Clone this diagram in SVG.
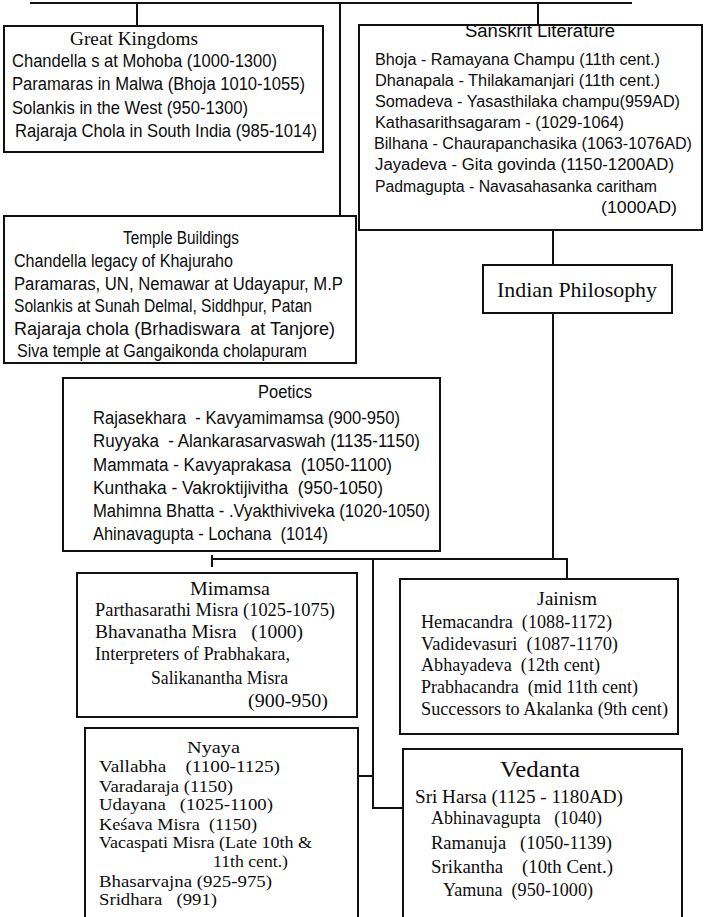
<svg xmlns="http://www.w3.org/2000/svg" width="704" height="917" viewBox="0 0 704 917">
<style>
  .bg { fill: #ffffff; }
  .box { fill: none; stroke: #111111; stroke-width: 2; }
  .wire { fill: none; stroke: #111111; stroke-width: 2; }
  text { fill: #0d0d0d; }
  .sans { font-family: "Liberation Sans", Arial, sans-serif; font-size: 18px; }
  .serif { font-family: "Liberation Serif", "Times New Roman", serif; font-size: 18px; }
  .sk { font-size: 16px; }
  .ny { font-size: 17px; }
  .big { font-size: 21px; }
  .big2 { font-size: 23px; }
</style>
<rect class="bg" x="0" y="0" width="704" height="917"/>

<g id="connectors">
  <path class="wire" d="M30 3 H632"/>
  <path class="wire" d="M137 3 V26"/>
  <path class="wire" d="M340 3 V216"/>
  <path class="wire" d="M538 3 V25"/>
  <path class="wire" d="M553 230 V265"/>
  <path class="wire" d="M553 313 V560"/>
  <path class="wire" d="M212 559 H567 V579"/>
  <path class="wire" d="M212 555 V567"/>
  <path class="wire" d="M373 559 V808 H403"/>
  <path class="wire" d="M358 776 H373"/>
</g>

<g id="great-kingdoms">
  <rect class="box" x="4" y="26" width="319" height="126"/>
  <text class="serif" x="70" y="45" textLength="128" lengthAdjust="spacingAndGlyphs">Great Kingdoms</text>
  <text class="sans" x="12" y="67" textLength="265" lengthAdjust="spacingAndGlyphs">Chandella s at Mohoba (1000-1300)</text>
  <text class="sans" x="12" y="90" textLength="293" lengthAdjust="spacingAndGlyphs">Paramaras in Malwa (Bhoja 1010-1055)</text>
  <text class="sans" x="12" y="114" textLength="236" lengthAdjust="spacingAndGlyphs">Solankis in the West (950-1300)</text>
  <text class="sans" x="15" y="137" textLength="302" lengthAdjust="spacingAndGlyphs">Rajaraja Chola in South India (985-1014)</text>
</g>

<g id="sanskrit-literature">
  <text class="sans" x="465" y="37" textLength="150" lengthAdjust="spacingAndGlyphs">Sanskrit Literature</text>
  <rect class="box" x="359" y="25" width="343" height="205"/>
  <text class="sans sk" x="375" y="65" textLength="285" lengthAdjust="spacingAndGlyphs">Bhoja - Ramayana Champu (11th cent.)</text>
  <text class="sans sk" x="375" y="86" textLength="285" lengthAdjust="spacingAndGlyphs">Dhanapala - Thilakamanjari (11th cent.)</text>
  <text class="sans sk" x="375" y="107" textLength="305" lengthAdjust="spacingAndGlyphs">Somadeva - Yasasthilaka champu(959AD)</text>
  <text class="sans sk" x="375" y="128" textLength="249" lengthAdjust="spacingAndGlyphs">Kathasarithsagaram - (1029-1064)</text>
  <text class="sans sk" x="374" y="149" textLength="318" lengthAdjust="spacingAndGlyphs">Bilhana - Chaurapanchasika (1063-1076AD)</text>
  <text class="sans sk" x="375" y="170" textLength="299" lengthAdjust="spacingAndGlyphs">Jayadeva - Gita govinda (1150-1200AD)</text>
  <text class="sans sk" x="375" y="192" textLength="282" lengthAdjust="spacingAndGlyphs">Padmagupta - Navasahasanka caritham</text>
  <text class="sans sk" x="601" y="213" textLength="76" lengthAdjust="spacingAndGlyphs">(1000AD)</text>
</g>

<g id="temple-buildings">
  <rect class="box" x="4" y="216" width="352" height="147"/>
  <text class="sans" x="123" y="244" textLength="116" lengthAdjust="spacingAndGlyphs">Temple Buildings</text>
  <text class="sans" x="14" y="267" textLength="219" lengthAdjust="spacingAndGlyphs">Chandella legacy of Khajuraho</text>
  <text class="sans" x="14" y="290" textLength="329" lengthAdjust="spacingAndGlyphs">Paramaras, UN, Nemawar at Udayapur, M.P</text>
  <text class="sans" x="14" y="312" textLength="298" lengthAdjust="spacingAndGlyphs">Solankis at Sunah Delmal, Siddhpur, Patan</text>
  <text class="sans" x="14" y="335" textLength="321" lengthAdjust="spacingAndGlyphs" xml:space="preserve">Rajaraja chola (Brhadiswara  at Tanjore)</text>
  <text class="sans" x="17" y="357" textLength="290" lengthAdjust="spacingAndGlyphs">Siva temple at Gangaikonda cholapuram</text>
</g>

<g id="indian-philosophy">
  <rect class="box" x="483" y="265" width="189" height="48"/>
  <text class="serif big" x="497" y="297" textLength="160" lengthAdjust="spacingAndGlyphs">Indian Philosophy</text>
</g>

<g id="poetics">
  <rect class="box" x="63" y="378" width="377" height="173"/>
  <text class="sans" x="258" y="398" textLength="54" lengthAdjust="spacingAndGlyphs">Poetics</text>
  <text class="sans" x="93" y="424" textLength="307" lengthAdjust="spacingAndGlyphs" xml:space="preserve">Rajasekhara  - Kavyamimamsa (900-950)</text>
  <text class="sans" x="93" y="447" textLength="327" lengthAdjust="spacingAndGlyphs" xml:space="preserve">Ruyyaka  - Alankarasarvaswah (1135-1150)</text>
  <text class="sans" x="93" y="471" textLength="299" lengthAdjust="spacingAndGlyphs" xml:space="preserve">Mammata - Kavyaprakasa  (1050-1100)</text>
  <text class="sans" x="93" y="494" textLength="290" lengthAdjust="spacingAndGlyphs" xml:space="preserve">Kunthaka - Vakroktijivitha  (950-1050)</text>
  <text class="sans" x="93" y="517" textLength="337" lengthAdjust="spacingAndGlyphs">Mahimna Bhatta - .Vyakthiviveka (1020-1050)</text>
  <text class="sans" x="93" y="540" textLength="235" lengthAdjust="spacingAndGlyphs" xml:space="preserve">Ahinavagupta - Lochana  (1014)</text>
</g>

<g id="mimamsa">
  <rect class="box" x="77" y="573" width="280" height="144"/>
  <text class="serif" x="190" y="595" textLength="80" lengthAdjust="spacingAndGlyphs">Mimamsa</text>
  <text class="serif" x="95" y="616" textLength="240" lengthAdjust="spacingAndGlyphs">Parthasarathi Misra (1025-1075)</text>
  <text class="serif" x="95" y="638" textLength="208" lengthAdjust="spacingAndGlyphs" xml:space="preserve">Bhavanatha Misra   (1000)</text>
  <text class="serif" x="95" y="660" textLength="195" lengthAdjust="spacingAndGlyphs">Interpreters of Prabhakara,</text>
  <text class="serif" x="151" y="684" textLength="137" lengthAdjust="spacingAndGlyphs">Salikanantha Misra</text>
  <text class="serif" x="248" y="707" textLength="80" lengthAdjust="spacingAndGlyphs">(900-950)</text>
</g>

<g id="jainism">
  <rect class="box" x="400" y="579" width="278" height="155"/>
  <text class="serif" x="537" y="605" textLength="60" lengthAdjust="spacingAndGlyphs">Jainism</text>
  <text class="serif" x="421" y="628" textLength="191" lengthAdjust="spacingAndGlyphs" xml:space="preserve">Hemacandra  (1088-1172)</text>
  <text class="serif" x="421" y="650" textLength="197" lengthAdjust="spacingAndGlyphs" xml:space="preserve">Vadidevasuri  (1087-1170)</text>
  <text class="serif" x="421" y="671" textLength="179" lengthAdjust="spacingAndGlyphs" xml:space="preserve">Abhayadeva  (12th cent)</text>
  <text class="serif" x="421" y="693" textLength="217" lengthAdjust="spacingAndGlyphs" xml:space="preserve">Prabhacandra  (mid 11th cent)</text>
  <text class="serif" x="421" y="715" textLength="247" lengthAdjust="spacingAndGlyphs">Successors to Akalanka (9th cent)</text>
</g>

<g id="nyaya">
  <rect class="box" x="85" y="728" width="273" height="210"/>
  <text class="serif ny" x="187" y="753" textLength="53" lengthAdjust="spacingAndGlyphs">Nyaya</text>
  <text class="serif ny" x="99" y="772" textLength="181" lengthAdjust="spacingAndGlyphs" xml:space="preserve">Vallabha    (1100-1125)</text>
  <text class="serif ny" x="99" y="792" textLength="134" lengthAdjust="spacingAndGlyphs">Varadaraja (1150)</text>
  <text class="serif ny" x="99" y="810" textLength="174" lengthAdjust="spacingAndGlyphs" xml:space="preserve">Udayana   (1025-1100)</text>
  <text class="serif ny" x="99" y="830" textLength="158" lengthAdjust="spacingAndGlyphs" xml:space="preserve">Keśava Misra  (1150)</text>
  <text class="serif ny" x="99" y="848" textLength="213" lengthAdjust="spacingAndGlyphs">Vacaspati Misra (Late 10th &amp;</text>
  <text class="serif ny" x="213" y="867" textLength="75" lengthAdjust="spacingAndGlyphs">11th cent.)</text>
  <text class="serif ny" x="99" y="887" textLength="173" lengthAdjust="spacingAndGlyphs">Bhasarvajna (925-975)</text>
  <text class="serif ny" x="99" y="905" textLength="118" lengthAdjust="spacingAndGlyphs" xml:space="preserve">Sridhara   (991)</text>
</g>

<g id="vedanta">
  <rect class="box" x="403" y="749" width="279" height="190"/>
  <text class="serif big2" x="500" y="777" textLength="80" lengthAdjust="spacingAndGlyphs">Vedanta</text>
  <text class="serif" x="415" y="803" textLength="208" lengthAdjust="spacingAndGlyphs">Sri Harsa (1125 - 1180AD)</text>
  <text class="serif" x="431" y="824" textLength="171" lengthAdjust="spacingAndGlyphs" xml:space="preserve">Abhinavagupta   (1040)</text>
  <text class="serif" x="431" y="849" textLength="181" lengthAdjust="spacingAndGlyphs" xml:space="preserve">Ramanuja   (1050-1139)</text>
  <text class="serif" x="431" y="873" textLength="182" lengthAdjust="spacingAndGlyphs" xml:space="preserve">Srikantha    (10th Cent.)</text>
  <text class="serif" x="443" y="896" textLength="150" lengthAdjust="spacingAndGlyphs" xml:space="preserve">Yamuna  (950-1000)</text>
</g>
</svg>
